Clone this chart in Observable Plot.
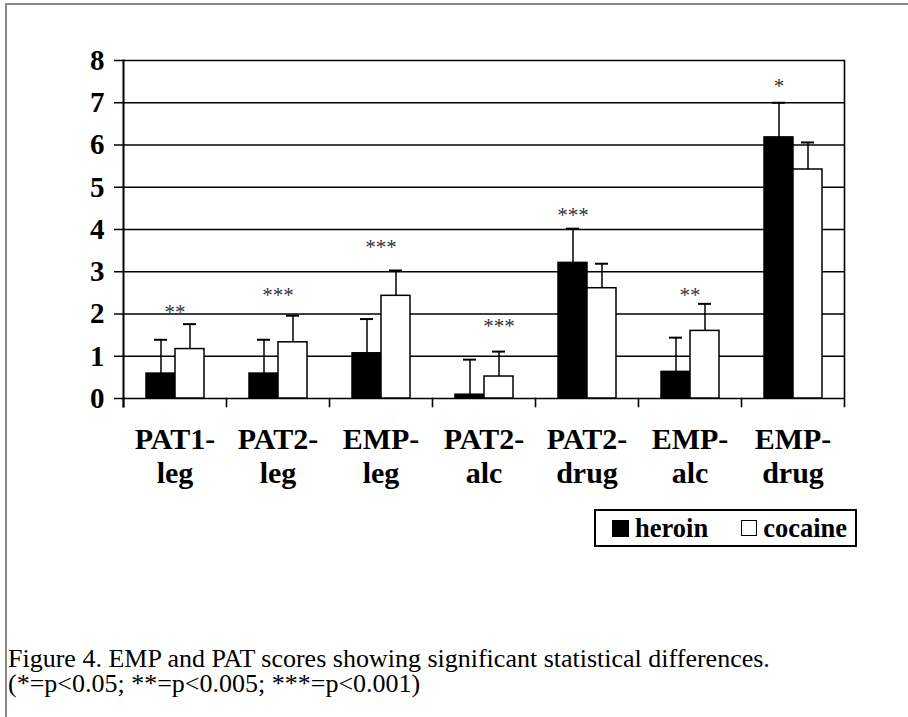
<!DOCTYPE html>
<html>
<head>
<meta charset="utf-8">
<script src="https://cdn.jsdelivr.net/npm/d3@7"></script>
<script src="https://cdn.jsdelivr.net/npm/@observablehq/plot@0.6"></script>
<style>
  html, body { margin: 0; padding: 0; background: #fff; }
  body { width: 908px; height: 717px; position: relative; overflow: hidden; font-family: "Liberation Serif", "Times New Roman", serif; }
  #frame { position: absolute; left: 5px; top: 3px; width: 1000px; height: 1000px; border: 2px solid #8a8a8a; box-sizing: border-box; }
  #chart { position: absolute; left: 0; top: 0; }
  #chart svg, #chart svg text, #chart svg tspan { font-family: "Liberation Serif", "Times New Roman", serif !important; }
  #legend { position: absolute; left: 594px; top: 509px; width: 263px; height: 38px; border: 2px solid #000; box-sizing: border-box;
            display: flex; align-items: center; font-weight: bold; font-size: 26.5px; color: #000; }
  .sw { display: inline-block; width: 16px; height: 16px; box-sizing: border-box; border: 1.5px solid #000; margin-right: 6px; }
  #caption { position: absolute; left: 8px; top: 646px; font-size: 26px; line-height: 25px; color: #000; white-space: nowrap; }
</style>
</head>
<body>
<div id="frame"></div>
<div id="chart"></div>
<div id="legend"></div>
<div id="caption"></div>
<script>
// ---- data ----
const categories = ["PAT1-leg", "PAT2-leg", "EMP-leg", "PAT2-alc", "PAT2-drug", "EMP-alc", "EMP-drug"];
const series = ["heroin", "cocaine"];
const heroin    = [0.59, 0.59, 1.07, 0.09, 3.21, 0.63, 6.18];
const heroinSD  = [0.80, 0.80, 0.81, 0.83, 0.81, 0.81, 0.82];
const cocaine   = [1.17, 1.33, 2.43, 0.52, 2.61, 1.60, 5.42];
const cocaineSD = [0.59, 0.63, 0.60, 0.59, 0.58, 0.64, 0.64];
const stars     = ["**", "***", "***", "***", "***", "**", "*"];
const starY     = [2.12, 2.51, 3.64, 1.77, 4.40, 2.51, 7.46];
const starOver  = ["center", "center", "center", "cocaine", "heroin", "center", "heroin"];
const yTicks    = [0, 1, 2, 3, 4, 5, 6, 7, 8];
const captionLines = [
  "Figure 4. EMP and PAT scores showing significant statistical differences.",
  "(*=p<0.05; **=p<0.005; ***=p<0.001)"
];

// ---- tables ----
const rows = [];
categories.forEach((c, i) => {
  rows.push({category: c, series: "heroin", value: heroin[i], upper: heroin[i] + heroinSD[i]});
  rows.push({category: c, series: "cocaine", value: cocaine[i], upper: cocaine[i] + cocaineSD[i]});
});
const starRows = categories.map((c, i) => ({category: c, label: stars[i], y: starY[i], over: starOver[i]}));
const starCentered = starRows.filter(d => d.over === "center");
const starOnBar = starRows.filter(d => d.over !== "center").map(d => ({...d, series: d.over}));

const font = "Liberation Serif";

const chart = Plot.plot({
  width: 908,
  height: 500,
  marginLeft: 122,
  marginRight: 63,
  marginTop: 60,
  marginBottom: 102,
  style: {fontFamily: font, background: "transparent", overflow: "visible"},
  fx: {domain: categories, padding: 0},
  x: {domain: series, paddingInner: 0, paddingOuter: 0.72, axis: null},
  y: {domain: [0, 8]},
  color: {domain: series, range: ["#000", "#fff"]},
  marks: [
    Plot.gridY(yTicks, {stroke: "#000", strokeOpacity: 1, strokeWidth: 1.6}),
    Plot.barY(rows, {fx: "category", x: "series", y: "value", fill: "series", stroke: "#000", strokeWidth: 1.5}),
    Plot.ruleX(rows, {fx: "category", x: "series", y1: "value", y2: "upper", stroke: "#000", strokeWidth: 1.5}),
    Plot.tickY(rows, {fx: "category", x: "series", y: "upper", stroke: "#000", strokeWidth: 2, insetLeft: 8, insetRight: 8}),
    Plot.text(starCentered, {fx: "category", y: "y", text: "label", fontSize: 21, fontFamily: font, fill: "#333", dy: 3}),
    Plot.text(starOnBar, {fx: "category", x: "series", y: "y", text: "label", fontSize: 21, fontFamily: font, fill: "#333", dy: 3}),
    // y-axis line and right edge of the plot box
    Plot.frame({anchor: "left", facetAnchor: "left", insetBottom: -8, stroke: "#000", strokeWidth: 2}),
    Plot.frame({anchor: "right", facetAnchor: "right", insetBottom: -8, stroke: "#000", strokeWidth: 1.6}),
    // category boundary ticks below the baseline
    Plot.frame({anchor: "left", insetTop: 338, insetBottom: -8, stroke: "#000", strokeWidth: 1.6}),
    Plot.axisY({ticks: yTicks, tickSize: 9, tickPadding: 10, fontSize: 29, fontWeight: "bold", fontFamily: font, label: null, stroke: "#000", strokeWidth: 1.5, tickFormat: d => String(d)}),
    Plot.axisFx({anchor: "bottom", tickSize: 0, tickPadding: 26, fontSize: 30, fontWeight: "bold", fontFamily: font, lineHeight: 1.133, label: null, tickFormat: d => d.replace("-", "-\n")})
  ]
});
chart.style.color = "#000";
document.getElementById("chart").appendChild(chart);

// legend
const legend = document.getElementById("legend");
series.forEach((s, i) => {
  const item = document.createElement("span");
  item.style.display = "inline-flex";
  item.style.alignItems = "center";
  item.style.marginLeft = i === 0 ? "16px" : "33px";
  const sw = document.createElement("span");
  sw.className = "sw";
  sw.style.background = i === 0 ? "#000" : "#fff";
  if (i === 0) { sw.style.width = "17px"; sw.style.height = "17px"; }
  item.appendChild(sw);
  item.appendChild(document.createTextNode(s));
  legend.appendChild(item);
});

// caption
const cap = document.getElementById("caption");
captionLines.forEach(t => {
  const div = document.createElement("div");
  div.textContent = t;
  cap.appendChild(div);
});
</script>
</body>
</html>
